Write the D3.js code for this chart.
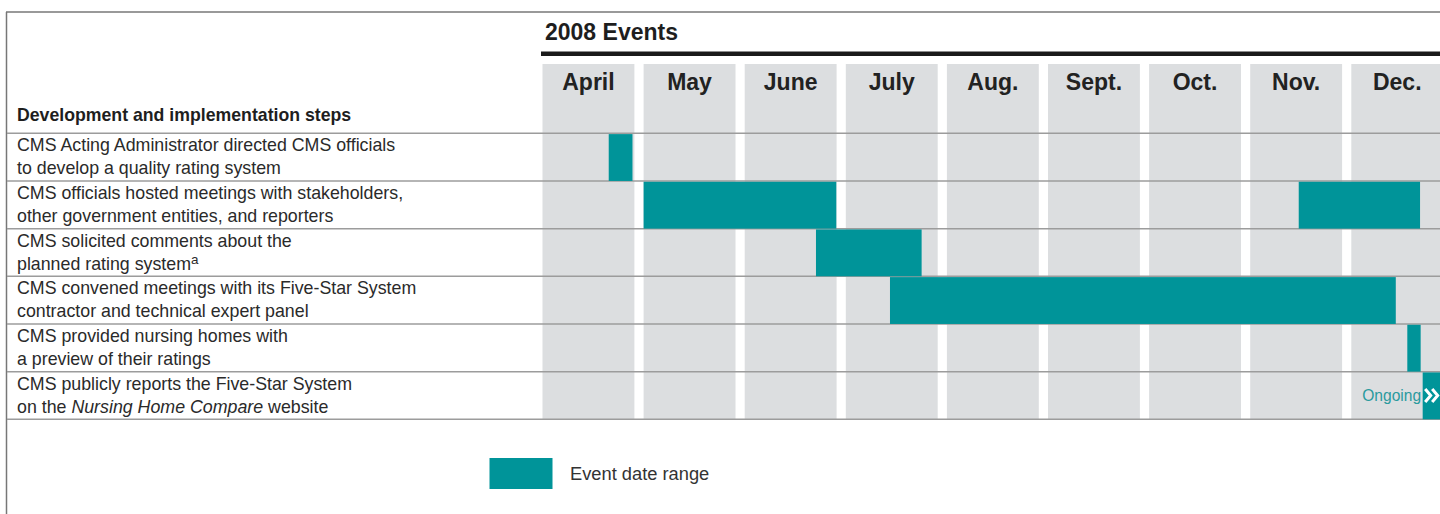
<!DOCTYPE html>
<html><head><meta charset="utf-8">
<script src="https://cdn.jsdelivr.net/npm/d3@7"></script>
<style>body{margin:0;background:#fff;}svg{display:block;font-family:"Liberation Sans",Arial,sans-serif;}</style>
</head><body>
<svg id="c" width="1440" height="514"></svg>
<script>
const title = "2008 Events";
const rowHeader = "Development and implementation steps";
const months = ["April","May","June","July","Aug.","Sept.","Oct.","Nov.","Dec."];
const monthNums = [4,5,6,7,8,9,10,11,12];
const stepLine1 = [
  "CMS Acting Administrator directed CMS officials",
  "CMS officials hosted meetings with stakeholders,",
  "CMS solicited comments about the",
  "CMS convened meetings with its Five-Star System",
  "CMS provided nursing homes with",
  "CMS publicly reports the Five-Star System"
];
const stepLine2 = [
  "to develop a quality rating system",
  "other government entities, and reporters",
  "planned rating system",
  "contractor and technical expert panel",
  "a preview of their ratings",
  "on the |Nursing Home Compare| website"
];
// bars: row index, start and end in month units (4 = start of April)
const barRow   = [0, 1, 1, 2, 3, 4, 5];
const barStart = [4.655, 5.0, 11.48, 6.705, 7.437, 12.554, 12.706];
const barEnd   = [4.89, 6.906, 12.68, 7.75, 12.44, 12.686, 13.0];
const ongoingRow = 5;
const legendLabel = "Event date range";

const teal = "#009499";
const svg = d3.select("#c");

const x = d3.scaleLinear().domain([4, 13]).range([542.5, 1452.4]);
const y = d3.scaleBand().domain(d3.range(stepLine1.length)).range([133.3, 419.3]).padding(0);
const colGap = 9.2;
const colTop = 64;

// frame
svg.append("line").attr("x1",6).attr("x2",1440).attr("y1",12).attr("y2",12).attr("stroke","#777").attr("stroke-width",1.5);
svg.append("line").attr("x1",6.5).attr("x2",6.5).attr("y1",12).attr("y2",514).attr("stroke","#777").attr("stroke-width",1.5);

// title
svg.append("text").attr("x",545).attr("y",40).attr("font-size",23).attr("font-weight","bold").attr("fill","#1e1e1e").text(title);
svg.append("line").attr("x1",541).attr("x2",1440).attr("y1",53.7).attr("y2",53.7).attr("stroke","#1a1a1a").attr("stroke-width",4.5);

// month columns
svg.selectAll("rect.col").data(monthNums).join("rect").attr("class","col")
  .attr("x", d => x(d)).attr("width", d => x(d+1) - x(d) - colGap)
  .attr("y", colTop).attr("height", y.range()[1] - colTop)
  .attr("fill","#dcdee0");
svg.selectAll("text.month").data(monthNums).join("text").attr("class","month")
  .attr("x", d => x(d) + (x(d+1)-x(d)-colGap)/2).attr("y", 90)
  .attr("text-anchor","middle").attr("font-size",23).attr("font-weight","bold").attr("fill","#222")
  .text((d,i) => months[i]);

// header
svg.append("text").attr("x",17).attr("y",121).attr("font-size",17.7).attr("font-weight","bold").attr("fill","#1e1e1e").text(rowHeader);

// row lines
const lineYs = d3.range(stepLine1.length + 1).map(i => i < stepLine1.length ? y(i) : y.range()[1]);
svg.selectAll("line.row").data(lineYs).join("line").attr("class","row")
  .attr("x1",7).attr("x2",1440).attr("y1",d=>d).attr("y2",d=>d)
  .attr("stroke","#9c9c9c").attr("stroke-width",1.5);

// bars
const bars = barRow.map((r,i) => ({r, s: barStart[i], e: barEnd[i]}));
svg.selectAll("rect.bar").data(bars).join("rect").attr("class","bar")
  .attr("x", d => x(d.s)).attr("width", d => x(d.e) - x(d.s))
  .attr("y", d => y(d.r) + 0.8).attr("height", y.bandwidth() - 0.8)
  .attr("fill", teal);

// ongoing marker
const oy = y(ongoingRow) + y.bandwidth()/2;
const ox = x(barStart[barStart.length-1]);
svg.append("text").attr("x", ox - 1.5).attr("y", oy + 5.5).attr("text-anchor","end")
  .attr("font-size",15.6).attr("fill","#2a9a9e").text("Ongoing");
[2.5, 9.5].forEach(dx => {
  svg.append("path").attr("d", `M${ox+dx},${oy-6.5} L${ox+dx+5.5},${oy} L${ox+dx},${oy+6.5}`)
    .attr("fill","none").attr("stroke","#fff").attr("stroke-width",3);
});

// row labels
stepLine1.forEach((t,i) => {
  const g = svg.append("g").attr("font-size",17.8).attr("fill","#2a2a2a");
  g.append("text").attr("x",17).attr("y", y(i) + 18).text(t);
  const t2 = g.append("text").attr("x",17).attr("y", y(i) + 41);
  const parts = stepLine2[i].split("|");
  parts.forEach((p,k) => {
    if (p.length) t2.append("tspan").attr("font-style", k % 2 ? "italic" : null).text(p);
  });
  if (i === 2) t2.append("tspan").attr("font-size",13.5).attr("dy",-6).text("a");
});

// legend
svg.append("rect").attr("x",489.5).attr("y",458).attr("width",63).attr("height",31).attr("fill",teal);
svg.append("text").attr("x",570).attr("y",480).attr("font-size",18.3).attr("fill","#333").text(legendLabel);
</script>
</body></html>
